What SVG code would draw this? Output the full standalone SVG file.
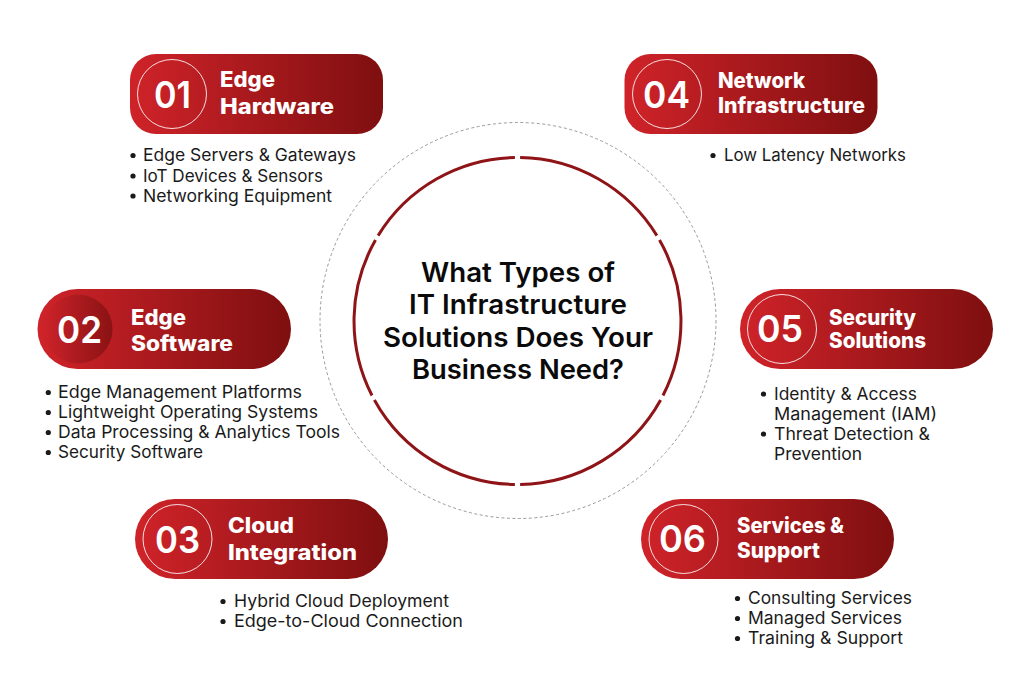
<svg xmlns="http://www.w3.org/2000/svg" width="1024" height="683" viewBox="0 0 1024 683">
<defs>
<linearGradient id="g"><stop offset="0" stop-color="#cf2329"/><stop offset="1" stop-color="#7f0f10"/></linearGradient>
<linearGradient id="g2"><stop offset="0" stop-color="#cc2329"/><stop offset="1" stop-color="#8a1214"/></linearGradient>
</defs>
<style>
text{font-family:"Inter","Liberation Sans",sans-serif}
.n{font-size:37px;font-weight:600;fill:#fff}
.t{font-size:21px;font-weight:800;fill:#fff}
.b{font-size:17px;font-weight:400;fill:#1a1a1a}
.c{font-size:27px;font-weight:600;fill:#0a0a0a}
.p{fill:url(#g)}
.r{fill:none;stroke:#fff;stroke-width:1;stroke-opacity:.85}
.d{fill:#1a1a1a}
.a{fill:none;stroke:#8f1418;stroke-width:3}
</style>
<rect width="1024" height="683" fill="#fff"/>
<g id="center">
<circle cx="518" cy="320.500" r="198" fill="none" stroke="#999" stroke-width="1" stroke-dasharray="3 2.500"/>
<path class="a" d="M514.900 157.500A163.500 163.500 0 0 0 378.100 235.600"/>
<path class="a" d="M375.500 240A163.500 163.500 0 0 0 372 395.500"/>
<path class="a" d="M374.400 400A163.500 163.500 0 0 0 514.900 484.500"/>
<path class="a" d="M520.100 484.500A163.500 163.500 0 0 0 660.600 400"/>
<path class="a" d="M663 395.500A163.500 163.500 0 0 0 659.500 240"/>
<path class="a" d="M656.900 235.600A163.500 163.500 0 0 0 520.100 157.500"/>
<text class="c" x="421" y="281.500" textLength="194" lengthAdjust="spacingAndGlyphs">What Types of</text>
<text class="c" x="409" y="314" textLength="218" lengthAdjust="spacingAndGlyphs">IT Infrastructure</text>
<text class="c" x="383" y="346.500" textLength="270" lengthAdjust="spacingAndGlyphs">Solutions Does Your</text>
<text class="c" x="412" y="379" textLength="212" lengthAdjust="spacingAndGlyphs">Business Need?</text>
</g>
<g id="n01">
<rect class="p" x="130" y="54" width="253" height="80" rx="26"/><circle class="r" cx="172" cy="94" r="34.500"/>
<text class="n" x="154" y="108" textLength="37" lengthAdjust="spacingAndGlyphs">01</text>
<text class="t" x="220" y="87" textLength="55" lengthAdjust="spacingAndGlyphs">Edge</text>
<text class="t" x="220" y="114" textLength="114" lengthAdjust="spacingAndGlyphs">Hardware</text>
<circle class="d" cx="133" cy="155.500" r="2.600"/><circle class="d" cx="133" cy="176" r="2.600"/><circle class="d" cx="133" cy="196" r="2.600"/>
<text class="b" x="143" y="161" textLength="213" lengthAdjust="spacingAndGlyphs">Edge Servers &amp; Gateways</text>
<text class="b" x="143" y="181.500" textLength="180" lengthAdjust="spacingAndGlyphs">IoT Devices &amp; Sensors</text>
<text class="b" x="143" y="201.500" textLength="189" lengthAdjust="spacingAndGlyphs">Networking Equipment</text>
</g>
<g id="n02">
<rect class="p" x="37.500" y="289" width="253.500" height="80" rx="40"/><circle fill="url(#g2)" cx="78" cy="329" r="34.500"/>
<text class="n" x="57" y="343" textLength="45" lengthAdjust="spacingAndGlyphs">02</text>
<text class="t" x="131" y="324.500" textLength="55" lengthAdjust="spacingAndGlyphs">Edge</text>
<text class="t" x="131" y="351" textLength="102" lengthAdjust="spacingAndGlyphs">Software</text>
<circle class="d" cx="48.300" cy="392.500" r="2.600"/><circle class="d" cx="48.300" cy="412.500" r="2.600"/><circle class="d" cx="48.300" cy="432.500" r="2.600"/><circle class="d" cx="48.300" cy="452.500" r="2.600"/>
<text class="b" x="58" y="398" textLength="244" lengthAdjust="spacingAndGlyphs">Edge Management Platforms</text>
<text class="b" x="58" y="418" textLength="260" lengthAdjust="spacingAndGlyphs">Lightweight Operating Systems</text>
<text class="b" x="58" y="438" textLength="282" lengthAdjust="spacingAndGlyphs">Data Processing &amp; Analytics Tools</text>
<text class="b" x="58" y="458" textLength="145" lengthAdjust="spacingAndGlyphs">Security Software</text>
</g>
<g id="n03">
<rect class="p" x="135" y="499" width="253" height="80" rx="40"/><circle class="r" cx="177.500" cy="539" r="34.500"/>
<text class="n" x="155" y="553" textLength="45" lengthAdjust="spacingAndGlyphs">03</text>
<text class="t" x="228" y="533" textLength="66" lengthAdjust="spacingAndGlyphs">Cloud</text>
<text class="t" x="228" y="560" textLength="129" lengthAdjust="spacingAndGlyphs">Integration</text>
<circle class="d" cx="223" cy="601.500" r="2.600"/><circle class="d" cx="223" cy="621.500" r="2.600"/>
<text class="b" x="234" y="607" textLength="215" lengthAdjust="spacingAndGlyphs">Hybrid Cloud Deployment</text>
<text class="b" x="234" y="627" textLength="229" lengthAdjust="spacingAndGlyphs">Edge-to-Cloud Connection</text>
</g>
<g id="n04">
<rect class="p" x="624.500" y="54" width="253" height="80" rx="26"/><circle class="r" cx="667" cy="94" r="34.500"/>
<text class="n" x="643" y="108" textLength="47" lengthAdjust="spacingAndGlyphs">04</text>
<text class="t" x="718" y="88" textLength="87" lengthAdjust="spacingAndGlyphs">Network</text>
<text class="t" x="718" y="112.500" textLength="147" lengthAdjust="spacingAndGlyphs">Infrastructure</text>
<circle class="d" cx="713" cy="155.500" r="2.600"/>
<text class="b" x="724" y="161" textLength="182" lengthAdjust="spacingAndGlyphs">Low Latency Networks</text>
</g>
<g id="n05">
<rect class="p" x="740" y="289" width="253" height="80" rx="40"/><circle class="r" cx="782" cy="329" r="34.500"/>
<text class="n" x="757" y="342" textLength="46" lengthAdjust="spacingAndGlyphs">05</text>
<text class="t" x="829" y="325" textLength="87" lengthAdjust="spacingAndGlyphs">Security</text>
<text class="t" x="829" y="348" textLength="97" lengthAdjust="spacingAndGlyphs">Solutions</text>
<circle class="d" cx="763.500" cy="394" r="2.600"/><circle class="d" cx="763.500" cy="434" r="2.600"/>
<text class="b" x="774" y="400" textLength="143" lengthAdjust="spacingAndGlyphs">Identity &amp; Access</text>
<text class="b" x="774" y="420" textLength="163" lengthAdjust="spacingAndGlyphs">Management (IAM)</text>
<text class="b" x="774" y="440" textLength="156" lengthAdjust="spacingAndGlyphs">Threat Detection &amp;</text>
<text class="b" x="774" y="460" textLength="88" lengthAdjust="spacingAndGlyphs">Prevention</text>
</g>
<g id="n06">
<rect class="p" x="641" y="499" width="253" height="80" rx="40"/><circle class="r" cx="683.500" cy="539" r="34.500"/>
<text class="n" x="659" y="552" textLength="47" lengthAdjust="spacingAndGlyphs">06</text>
<text class="t" x="737" y="533" textLength="107" lengthAdjust="spacingAndGlyphs">Services &amp;</text>
<text class="t" x="737" y="558" textLength="83" lengthAdjust="spacingAndGlyphs">Support</text>
<circle class="d" cx="737.500" cy="598.500" r="2.600"/><circle class="d" cx="737.500" cy="618.500" r="2.600"/><circle class="d" cx="737.500" cy="638.500" r="2.600"/>
<text class="b" x="748" y="604" textLength="164" lengthAdjust="spacingAndGlyphs">Consulting Services</text>
<text class="b" x="748" y="624" textLength="154" lengthAdjust="spacingAndGlyphs">Managed Services</text>
<text class="b" x="748" y="644" textLength="155" lengthAdjust="spacingAndGlyphs">Training &amp; Support</text>
</g>
</svg>
